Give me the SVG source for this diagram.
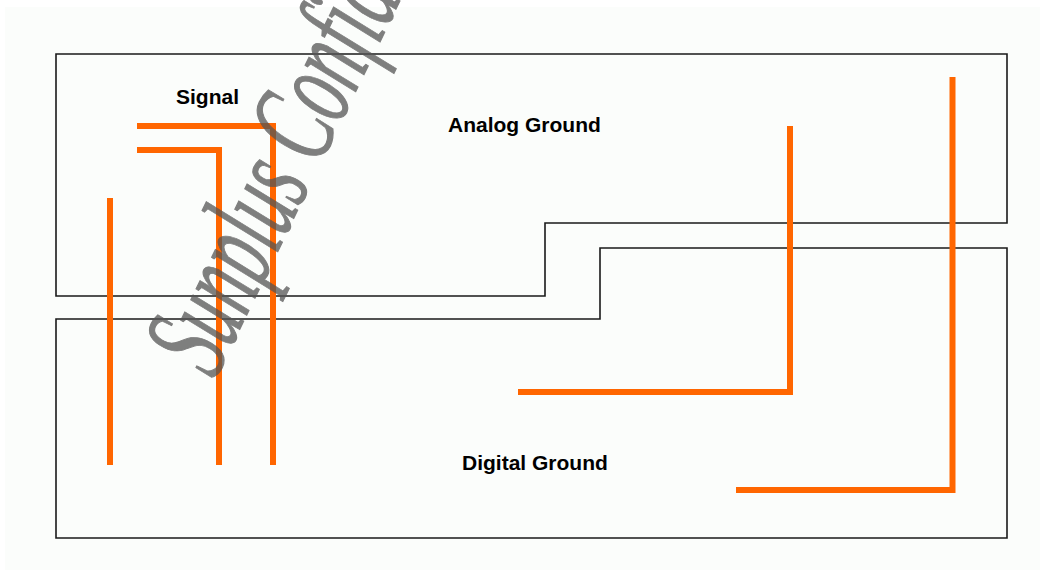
<svg xmlns="http://www.w3.org/2000/svg" width="1043" height="573" viewBox="0 0 1043 573">
<style>
.gnd{fill:none;stroke:#1a1a1a;stroke-width:1.6}
.trace{fill:none;stroke:#ff6600;stroke-width:6;stroke-linecap:butt;stroke-linejoin:miter}
.lbl{font-family:"Liberation Sans",Arial,sans-serif;font-weight:bold;font-size:21px;fill:#000}
.wm{font-family:"Liberation Serif","Times New Roman",serif;font-style:italic;font-size:124px;fill:#555;stroke:#555;stroke-width:1.2;opacity:0.75}
</style>
<rect x="0" y="0" width="1043" height="573" fill="#ffffff"/>
<rect x="5" y="7" width="1035" height="563" fill="#fbfdfb"/>
<g id="analog-ground">
<path class="gnd" d="M56,54 H1007 V223 H545 V296 H56 Z"/>
<text class="lbl" x="448" y="132">Analog Ground</text>
</g>
<g id="digital-ground">
<path class="gnd" d="M56,319 H600 V248 H1007 V538 H56 Z"/>
<text class="lbl" x="462" y="470">Digital Ground</text>
</g>
<g id="signal">
<text class="lbl" x="176" y="104">Signal</text>
</g>
<g id="traces">
<path class="trace" d="M110,198 V465"/>
<path class="trace" d="M137,150 H219 V465"/>
<path class="trace" d="M137,126 H273 V465"/>
<path class="trace" d="M518,392 H790 V126"/>
<path class="trace" d="M736,490 H952.5 V77"/>
</g>
<g id="watermark">
<text class="wm" transform="translate(215,380) rotate(-64) scale(0.56,1)">Sunplus Confidential</text>
</g>
</svg>
